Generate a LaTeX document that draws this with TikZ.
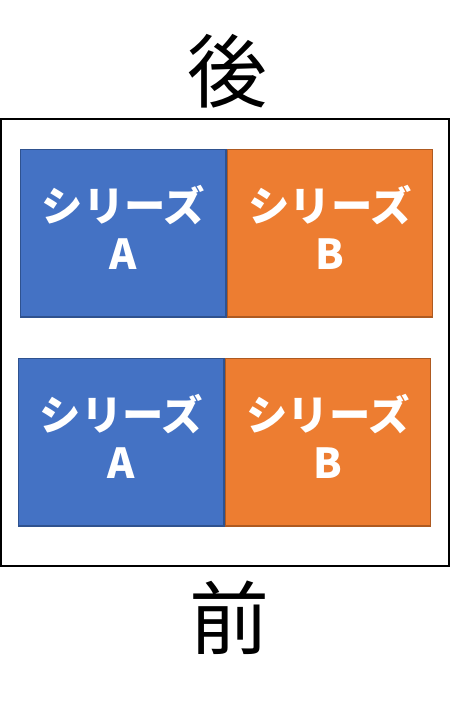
\documentclass[tikz,border=0pt]{standalone}
\usepackage{fontspec}
\setmainfont{Noto Sans CJK JP}
\usepackage{xcolor}
\definecolor{serAfill}{RGB}{68,114,196}
\definecolor{serAline}{RGB}{47,82,143}
\definecolor{serBfill}{RGB}{237,125,49}
\definecolor{serBline}{RGB}{174,90,33}
\usetikzlibrary{positioning}

\tikzset{
    serbox/.style={draw, line width=1pt, inner sep=0pt, minimum width=154pt, minimum height=125.5pt,
        align=center, text=white, text depth=9pt, font=\fontsize{31}{36.5}\selectfont\bfseries},
    serA/.style={serbox, fill=serAfill, draw=serAline},
    serB/.style={serbox, fill=serBfill, draw=serBline},
    sidelabel/.style={inner sep=0.75pt, font=\fontsize{60}{60}\selectfont}
}

\begin{document}
\begin{tikzpicture}[x=0.75pt,y=0.75pt,yscale=-1,xscale=1]
    \useasboundingbox (0,0) rectangle (450,724);

    %Frame
    \draw [line width=1.5pt] (1,119) rectangle (449,566);

    %Upper row
    \node [serA, anchor=north west] (upA) at (20,149) {シリーズ\\A};
    \node [serB, anchor=west] (upB) at (upA.east) {シリーズ\\B};
    %Lower row
    \node [serA, anchor=north west] (lowA) at (18,358) {シリーズ\\A};
    \node [serB, anchor=west] (lowB) at (lowA.east) {シリーズ\\B};

    % Text Node
    \node [sidelabel] (back) at (227,71) {後};
    % Text Node
    \node [sidelabel] (front) at (229,618) {前};

\end{tikzpicture}
\end{document}
